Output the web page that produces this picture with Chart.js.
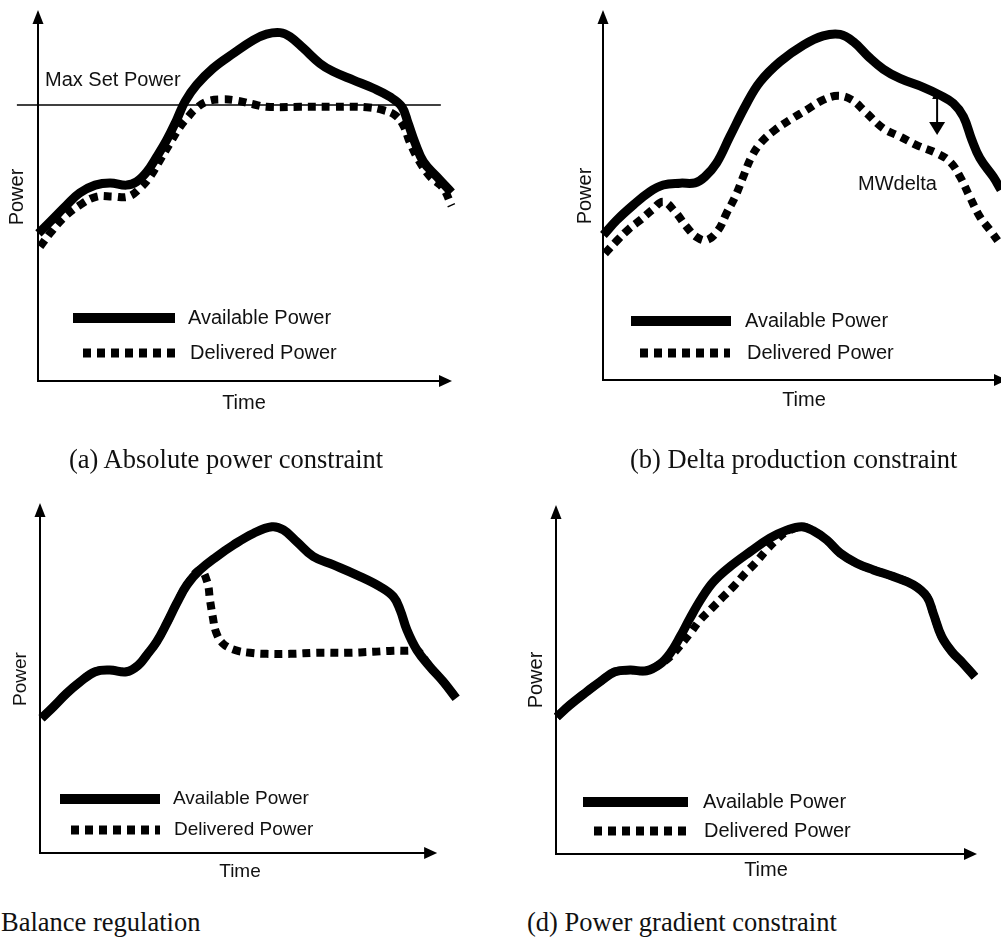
<!DOCTYPE html>
<html>
<head>
<meta charset="utf-8">
<title>Power constraints</title>
<script src="https://cdn.jsdelivr.net/npm/chart.js@4.4.0/dist/chart.umd.min.js"></script>
<style>
  html, body { margin: 0; padding: 0; background: #fff; overflow: hidden; width: 1001px; height: 941px; }
  canvas { position: absolute; }
  .cap { position: absolute; font-family: "Liberation Serif", "Times New Roman", serif; font-size: 26.5px; line-height: 1; color: #111; white-space: nowrap; }
</style>
</head>
<body>
<canvas id="chartA" width="500" height="430" style="left:0;top:0"></canvas>
<canvas id="chartB" width="460" height="430" style="left:560px;top:0"></canvas>
<canvas id="chartC" width="480" height="420" style="left:0;top:470px"></canvas>
<canvas id="chartD" width="491" height="420" style="left:510px;top:470px"></canvas>
<div class="cap" style="left:69px;top:446px">(a) Absolute power constraint</div>
<div class="cap" style="left:630px;top:446px">(b) Delta production constraint</div>
<div class="cap" style="left:1px;top:909px">Balance regulation</div>
<div class="cap" style="left:527px;top:909px">(d) Power gradient constraint</div>
<script>
// time and power both run 0..100 along each axis (100 = arrow tip), [time, power]
const availableA = [[0.1,39.8],[2.9,42.9],[6.9,47.4],[10.1,50.7],[13.8,52.8],[17.4,53.4],[21.4,52.8],[23.8,53.7],[26.3,56.4],[28.7,60.5],[31.1,65.0],[33.5,70.4],[35.5,75.3],[38.3,79.8],[42.3,84.3],[47.2,88.3],[52.0,91.9],[55.2,93.5],[58.5,93.9],[60.9,92.8],[64.1,89.7],[68.1,85.6],[71.3,83.4],[76.2,81.1],[81.0,78.9],[85.0,76.6],[87.9,73.9],[89.4,69.5],[91.1,64.1],[93.1,59.1],[96.3,55.1],[99.9,50.8]];
const deliveredA = [[0.5,36.2],[2.9,39.8],[6.1,43.9],[10.1,47.4],[14.2,49.7],[18.2,49.7],[21.8,49.7],[24.6,51.9],[27.1,55.1],[29.5,59.6],[31.9,64.1],[34.3,68.5],[36.3,71.2],[37.9,73.2],[40.7,75.3],[44.4,75.9],[48.0,75.6],[52.0,74.6],[55.2,73.9],[63.3,73.9],[71.3,73.9],[79.4,73.8],[83.4,73.0],[86.2,71.7],[88.2,69.0],[89.9,64.1],[91.9,59.6],[94.7,55.1],[97.9,51.9],[99.9,47.2]];
const maxSetPower = 74.4;
const maxSetSpan = [-5.1, 97.3];

const availableB = [[0.1,39.2],[3.4,43.2],[7.5,47.3],[11.6,50.9],[14.9,52.7],[19.1,53.2],[22.8,53.3],[25.2,54.9],[28.1,58.6],[31.4,65.8],[35.6,74.8],[38.9,80.6],[43.8,86.0],[49.6,90.5],[54.5,93.0],[58.7,93.4],[62.0,91.4],[65.7,87.4],[69.4,84.0],[73.5,81.5],[79.3,79.1],[83.4,77.0],[86.7,74.8],[89.2,71.2],[91.3,64.9],[93.3,59.9],[96.6,54.9],[98.5,51.4]];
const deliveredB = [[0.5,34.2],[3.4,37.6],[6.3,40.7],[9.2,43.2],[12.1,45.9],[14.9,48.2],[17.8,45.5],[20.7,41.4],[23.2,38.6],[25.7,37.8],[28.5,40.5],[30.6,45.1],[32.7,49.5],[34.7,54.9],[36.8,60.4],[39.3,64.4],[42.6,67.6],[46.3,70.3],[50.4,73.0],[54.5,75.7],[58.2,76.8],[61.6,75.7],[64.9,72.5],[69.4,68.0],[73.5,65.8],[77.6,63.5],[82.6,61.3],[85.9,59.0],[88.4,54.9],[90.8,49.5],[93.3,44.1],[95.8,40.5],[98.5,36.5]];
const deltaArrow = { time: 82.7, top: 78.4, bottom: 66.2 };

const availableC = [[0.4,38.5],[3.4,41.8],[6.7,45.6],[10.1,48.9],[13.9,51.8],[17.6,52.3],[21.8,51.8],[24.8,53.7],[26.9,56.6],[29.4,60.4],[31.9,65.6],[34.4,71.3],[37.0,76.6],[40.3,80.9],[44.5,84.7],[48.7,88.0],[53.7,91.3],[58.4,93.2],[61.3,92.3],[64.7,88.9],[68.8,84.7],[73.9,82.3],[79.8,79.4],[85.6,76.1],[89.0,73.2],[90.7,69.4],[92.4,63.7],[94.9,58.0],[98.2,53.2],[101.6,48.9],[104.8,44.2]];
// balance set point: delivered power drops away from available and holds
const balanceC = [[42.1,77.5],[42.8,72.3],[43.5,67.5],[44.3,63.2],[46.0,59.9],[49.1,58.0],[52.9,57.2],[57.1,56.9],[63.0,56.9],[69.7,57.2],[77.3,57.2],[84.0,57.5],[89.0,57.8],[92.8,57.8]];

const availableD = [[0.2,39.3],[3.3,42.7],[7.3,46.5],[10.5,49.4],[14.0,52.2],[17.6,52.7],[21.5,52.5],[24.7,54.4],[27.1,57.5],[29.5,62.3],[31.8,67.5],[34.6,73.3],[37.4,78.0],[41.3,82.3],[46.1,86.6],[50.8,90.5],[54.8,92.8],[58.4,93.8],[61.1,92.6],[64.3,90.0],[67.5,86.2],[71.4,83.3],[75.4,81.4],[80.1,79.5],[84.9,77.1],[88.1,73.7],[89.6,69.0],[91.6,62.3],[94.0,58.0],[96.7,54.6],[99.5,50.8]];
// ramp-limited rise
const rampD = [[27.5,57.0],[31.8,63.2],[34.2,67.0],[37.0,70.4],[39.7,73.7],[42.5,77.1],[44.9,80.4],[47.3,83.3],[50.0,87.1],[52.4,90.0],[54.8,92.3]];

const deliveredC = availableC.filter(p => p[0] <= 40.3).concat(balanceC, availableC.filter(p => p[0] >= 94.9));
const deliveredD = availableD.filter(p => p[0] <= 24.7).concat(rampD, availableD.filter(p => p[0] >= 58.4));

const labelFont = px => px + 'px "Liberation Sans", Arial, Helvetica, sans-serif';
const ink = '#111';

function toXY(points) {
  return points.map(p => ({ x: p[0], y: p[1] }));
}

function availableLine(points) {
  return {
    label: 'Available Power', data: toXY(points),
    borderColor: '#000', borderWidth: 9, pointRadius: 0,
    tension: 0.4, clip: false, borderJoinStyle: 'round'
  };
}

function deliveredLine(points) {
  return {
    label: 'Delivered Power', data: toXY(points),
    borderColor: '#000', borderWidth: 8, borderDash: [8, 6], pointRadius: 0,
    tension: 0.4, clip: false
  };
}

// axes with arrow heads, axis names, inline legend and notes
function decor(p) {
  return {
    id: 'decor',
    beforeDatasetsDraw(chart) {
      const {ctx, chartArea: {left, top, bottom}} = chart;
      const right = chart.scales.x.getPixelForValue(100);
      ctx.save();
      ctx.strokeStyle = '#000';
      ctx.fillStyle = '#000';
      ctx.lineWidth = 2;
      ctx.beginPath();
      ctx.moveTo(left, top + 10);
      ctx.lineTo(left, bottom);
      ctx.lineTo(right - 10, bottom);
      ctx.stroke();
      ctx.beginPath();
      ctx.moveTo(left, top);
      ctx.lineTo(left - 5.5, top + 14);
      ctx.lineTo(left + 5.5, top + 14);
      ctx.closePath();
      ctx.fill();
      ctx.beginPath();
      ctx.moveTo(right, bottom);
      ctx.lineTo(right - 13, bottom - 6);
      ctx.lineTo(right - 13, bottom + 6);
      ctx.closePath();
      ctx.fill();
      ctx.restore();
    },
    afterDatasetsDraw(chart) {
      const {ctx} = chart;
      ctx.save();
      ctx.fillStyle = ink;
      ctx.font = labelFont(p.fontSize || 20);
      ctx.textBaseline = 'middle';

      ctx.textAlign = 'center';
      ctx.fillText('Time', p.time[0], p.time[1]);
      ctx.save();
      ctx.translate(p.power[0], p.power[1]);
      ctx.rotate(-Math.PI / 2);
      ctx.fillText('Power', 0, 0);
      ctx.restore();

      ctx.textAlign = 'left';
      p.legend.forEach(item => {
        const ds = chart.data.datasets[item.index];
        ctx.save();
        ctx.strokeStyle = ds.borderColor;
        ctx.lineWidth = item.lw;
        ctx.lineCap = 'butt';
        ctx.setLineDash(ds.borderDash || []);
        ctx.beginPath();
        ctx.moveTo(item.x1, item.y);
        ctx.lineTo(item.x2, item.y);
        ctx.stroke();
        ctx.restore();
        ctx.fillText(ds.label, item.tx, item.y);
      });

      (p.notes || []).forEach(n => ctx.fillText(n.text, n.x, n.y));

      if (p.delta) {
        const xs = chart.scales.x, ys = chart.scales.y;
        const x = xs.getPixelForValue(p.delta.time);
        const y1 = ys.getPixelForValue(p.delta.top);
        const y2 = ys.getPixelForValue(p.delta.bottom);
        ctx.strokeStyle = '#000';
        ctx.fillStyle = '#000';
        ctx.lineWidth = 2;
        ctx.beginPath();
        ctx.moveTo(x, y1 + 6);
        ctx.lineTo(x, y2 - 10);
        ctx.stroke();
        ctx.beginPath();
        ctx.moveTo(x, y1);
        ctx.lineTo(x - 5, y1 + 9);
        ctx.lineTo(x + 5, y1 + 9);
        ctx.closePath();
        ctx.fill();
        ctx.beginPath();
        ctx.moveTo(x, y2);
        ctx.lineTo(x - 8, y2 - 13);
        ctx.lineTo(x + 8, y2 - 13);
        ctx.closePath();
        ctx.fill();
      }
      ctx.restore();
    }
  };
}

function addPanel(id, p, datasets) {
  return new Chart(document.getElementById(id), {
    type: 'line',
    data: { datasets: datasets },
    options: {
      responsive: false,
      animation: false,
      events: [],
      layout: { autoPadding: false, padding: p.pad },
      scales: {
        x: { type: 'linear', min: 0, max: p.xMax || 100, display: false },
        y: { type: 'linear', min: 0, max: 100, display: false }
      },
      plugins: { legend: { display: false }, tooltip: { enabled: false } }
    },
    plugins: [decor(p)]
  });
}

addPanel('chartA', {
  pad: { left: 38, top: 10, right: 48, bottom: 49 },
  power: [17, 197], time: [244, 403],
  legend: [{ index: 0, x1: 73, x2: 175, y: 318, tx: 188, lw: 10 }, { index: 1, x1: 83, x2: 175, y: 353, tx: 190, lw: 9 }],
  notes: [{ text: 'Max Set Power', x: 45, y: 80 }]
}, [
  availableLine(availableA),
  deliveredLine(deliveredA),
  { label: 'Max Set Power', data: [{ x: maxSetSpan[0], y: maxSetPower }, { x: maxSetSpan[1], y: maxSetPower }],
    borderColor: '#000', borderWidth: 1.5, pointRadius: 0, clip: false }
]);

addPanel('chartB', {
  pad: { left: 43, top: 10, right: 13, bottom: 50 },
  power: [25, 196], time: [244, 400],
  legend: [{ index: 0, x1: 71, x2: 171, y: 321, tx: 185, lw: 10 }, { index: 1, x1: 80, x2: 170, y: 353, tx: 187, lw: 9 }],
  notes: [{ text: 'MWdelta', x: 298, y: 184 }],
  delta: deltaArrow
}, [availableLine(availableB), deliveredLine(deliveredB)]);

// the curves here run a little past the time arrow
addPanel('chartC', {
  pad: { left: 40, top: 33, right: 23, bottom: 37 },
  xMax: 105,
  fontSize: 19,
  power: [21, 209], time: [240, 402],
  legend: [{ index: 0, x1: 60, x2: 160, y: 329, tx: 173, lw: 10 }, { index: 1, x1: 71, x2: 160, y: 360, tx: 174, lw: 9 }]
}, [availableLine(availableC), deliveredLine(deliveredC)]);

addPanel('chartD', {
  pad: { left: 46, top: 35, right: 24, bottom: 36 },
  power: [26, 210], time: [256, 400],
  legend: [{ index: 0, x1: 73, x2: 178, y: 332, tx: 193, lw: 10 }, { index: 1, x1: 84, x2: 178, y: 361, tx: 194, lw: 9 }]
}, [availableLine(availableD), deliveredLine(deliveredD)]);
</script>
</body>
</html>
